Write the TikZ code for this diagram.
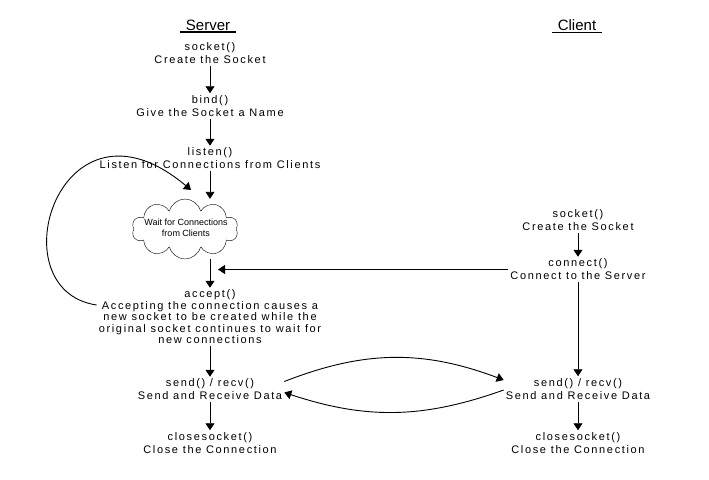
\documentclass[tikz,border=0pt]{standalone}
\usepackage{fontspec}
\setmainfont{Liberation Sans}[LetterSpace=15]
\usetikzlibrary{shapes.symbols,arrows.meta}

\tikzset{
	stage/.style={align=center, font=\fontsize{11}{13}\selectfont, inner sep=2pt},
	head/.style={font=\fontsize{15}{18}\selectfont\addfontfeature{LetterSpace=0}, inner xsep=6pt, inner ysep=1.5pt},
	flow/.style={-{Triangle[width=9pt,length=7pt]}, line width=0.9pt},
}

\begin{document}
\begin{tikzpicture}[x=1pt,y=-1pt]
	\useasboundingbox (0,0) rectangle (709,479);

	\node (server)[head] at (208,25) {Server};
	\draw [line width=1.3pt](server.south west)--(server.south east);
	\node (client)[head] at (577,25) {Client};
	\draw [line width=1.3pt](client.south west)--(client.south east);

	% server side
	\node (socket)[stage] at (210,53.5) {socket()\\Create the Socket};
	\node (bind)[stage] at (210,106) {bind()\\Give the Socket a Name};
	\node (listen)[stage] at (210,158.5) {listen()\\Listen for Connections from Clients};
	\node (wait)[cloud, draw, cloud puffs=10, cloud ignores aspect, minimum width=106, minimum height=60, inner sep=0pt] at (185,229) {};
	\node (waittext)[align=center, inner sep=0pt, font=\fontsize{9}{11.5}\selectfont\addfontfeature{LetterSpace=0}] at (186,228) {
		Wait for Connections\\from Clients};
	\node (accept)[stage, font=\fontsize{11}{11.5}\selectfont] at (210,317) {
		accept()\\
		Accepting the connection causes a\\
		new socket to be created while the\\
		original socket continues to wait for\\
		new connections};
	\node (send)[stage] at (210,389.5) {send() / recv()\\Send and Receive Data};
	\node (close)[stage] at (210,443) {closesocket()\\Close the Connection};

	% client side
	\node (csocket)[stage] at (578,220.5) {socket()\\Create the Socket};
	\node (connect)[stage] at (578,269.5) {connect()\\Connect to the Server};
	\node (csend)[stage] at (578,389) {send() / recv()\\Send and Receive Data};
	\node (cclose)[stage] at (578,443) {closesocket()\\Close the Connection};

	\coordinate (merge) at (218,270);
	\coordinate (reentry) at (191,190);

	\draw [flow](socket)--(bind);
	\draw [flow](bind)--(listen);
	\draw [flow](listen.south)--(listen.south |- wait.north);
	\draw [flow](accept.north |- wait.south)--(accept);
	\draw [flow](accept)--(send);
	\draw [flow](send)--(close);
	\draw [flow](csocket)--(connect);
	\draw [flow](connect)--(csend);
	\draw [flow](csend)--(cclose);
	\draw [flow](connect.west)--(connect.west -| merge);
	\draw [flow]([yshift=12pt]accept.west) .. controls (-5,290) and (60,80) .. (reentry);
	\draw [flow]([yshift=8pt]send.east) to[bend left=21] ([yshift=9pt]csend.west);
	\draw [flow]([yshift=-1pt]csend.west) to[bend left=19] ([yshift=-3pt]send.east);
\end{tikzpicture}
\end{document}
